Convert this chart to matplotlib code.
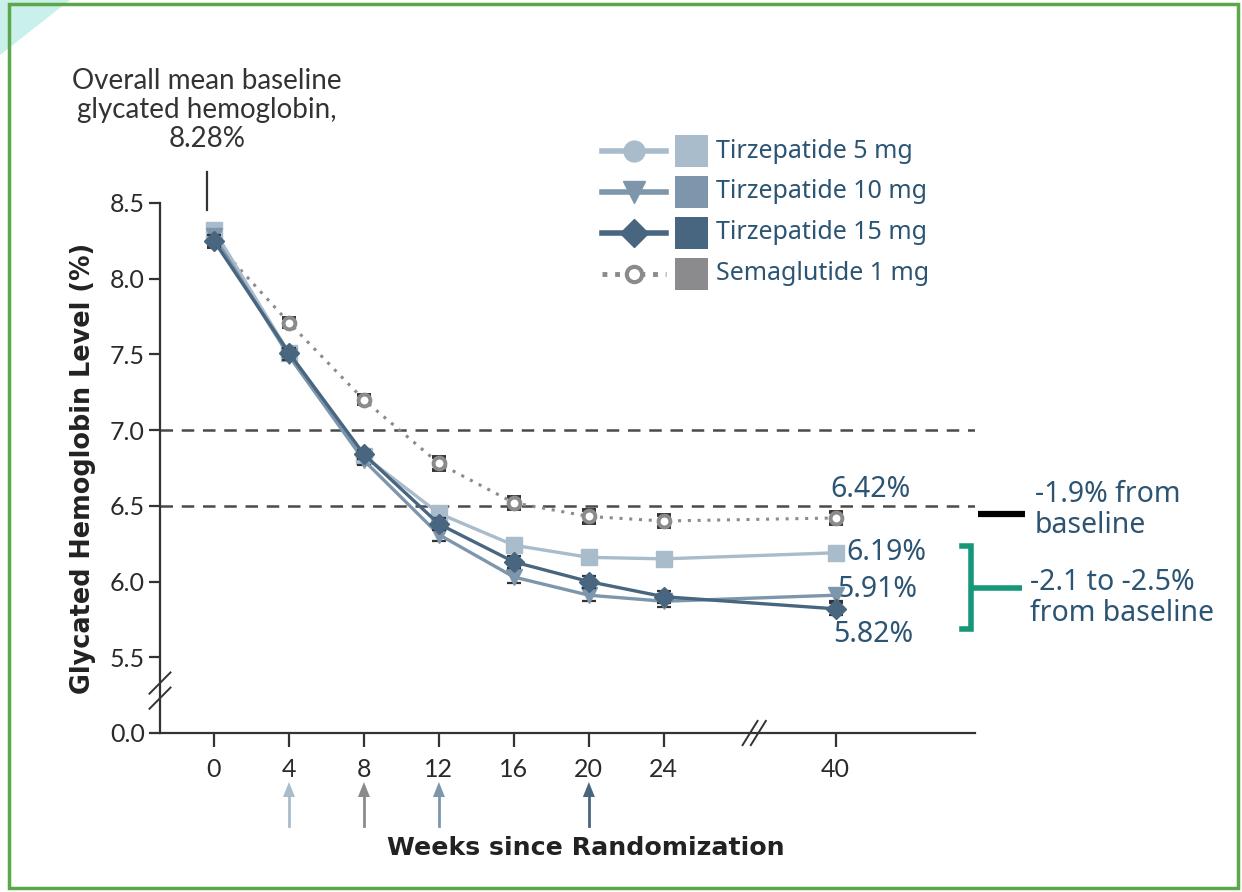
import matplotlib
matplotlib.use("Agg")
import matplotlib.pyplot as plt
from matplotlib.lines import Line2D
from matplotlib.patches import Rectangle, Polygon

# weeks since randomization and where they sit on the compressed x axis
weeks = [0, 4, 8, 12, 16, 20, 24, 40]
xpos = [0, 1, 2, 3, 4, 5, 6, 8.29]

tirz5 = [8.32, 7.51, 6.83, 6.45, 6.24, 6.16, 6.15, 6.19]
tirz10 = [8.28, 7.49, 6.80, 6.31, 6.03, 5.91, 5.87, 5.91]
tirz15 = [8.25, 7.51, 6.84, 6.38, 6.13, 6.00, 5.90, 5.82]
sema1 = [8.25, 7.71, 7.20, 6.78, 6.52, 6.43, 6.40, 6.42]
err = [0.04, 0.03, 0.03, 0.04, 0.04, 0.04, 0.04, 0.04]

series_names = ["Tirzepatide 5 mg", "Tirzepatide 10 mg", "Tirzepatide 15 mg", "Semaglutide 1 mg"]
series_colors = ["#a8bccb", "#7d96ab", "#486680", "#8b8b8d"]

end_labels = ["6.42%", "6.19%", "5.91%", "5.82%"]
yticks = [5.0, 5.5, 6.0, 6.5, 7.0, 7.5, 8.0, 8.5]
ytick_labels = ["0.0", "5.5", "6.0", "6.5", "7.0", "7.5", "8.0", "8.5"]
dose_step_weeks = [4, 8, 12, 20]
dose_step_colors = ["#a8bccb", "#8b8b8d", "#7d96ab", "#486680"]

W, H = 1242, 892
TXT = "#2c5473"
AXC = "#333333"

fig = plt.figure(figsize=(W / 100, H / 100), dpi=100)
ax = fig.add_axes([160 / W, 159 / H, 815 / W, 530 / H])


def px(x, y):
    # pixel position (from top-left) to figure fraction
    return x / W, 1 - y / H


# frame around the figure
fig.add_artist(Polygon([px(0, 0), px(70, 0), px(0, 55)], closed=True,
                       transform=fig.transFigure, color="#c9f0ea", lw=0))
fig.add_artist(Rectangle(px(9, 888), (1229) / W, 884 / H, transform=fig.transFigure,
                         fill=False, ec="#5aa84a", lw=2.5))

ax.set_xlim(-0.72, 10.15)
ax.set_ylim(5.0, 8.5)

for y in [7.0, 6.5]:
    ax.axhline(y, color="#4a4a4a", lw=1.8, ls=(0, (5, 3.5)), zorder=1)

markers = ["s", "v", "D", "o"]
msizes = [11, 12, 10, 8.5]
data = [tirz5, tirz10, tirz15, sema1]
order = [3, 0, 1, 2]
for i in order:
    vals = data[i]
    c = series_colors[i]
    if i == 3:
        ax.errorbar(xpos, vals, yerr=err, color=c, lw=2.2, ls=(0, (1, 2.2)),
                    marker="o", ms=msizes[i], mfc="white", mec=c, mew=2.8,
                    ecolor=AXC, elinewidth=1.0, capsize=5, capthick=1.6,
                    zorder=3, clip_on=False)
    else:
        ax.errorbar(xpos, vals, yerr=err, color=c, lw=2.4, marker=markers[i],
                    ms=msizes[i], mfc=c, mec=c, ecolor=AXC, elinewidth=1.0,
                    capsize=5, capthick=1.6, zorder=4 + i, clip_on=False)

# spines and ticks
for s in ["top", "right"]:
    ax.spines[s].set_visible(False)
for s in ["left", "bottom"]:
    ax.spines[s].set_color(AXC)
    ax.spines[s].set_linewidth(1.6)

tick_font = dict(family="Lato", size=18, color="#2a2a2a")
ax.set_yticks(yticks)
ax.set_yticklabels(ytick_labels, **tick_font)
ax.set_xticks(xpos)
ax.set_xticklabels([str(w) for w in weeks], **tick_font)
ax.tick_params(axis="y", direction="out", length=8, width=1.6, color=AXC, pad=3)
ax.tick_params(axis="x", direction="out", length=10, width=1.6, color=AXC, pad=8)

# axis break marks
for dx in [0, 0.11]:
    ax.plot([7.05 + dx, 7.25 + dx], [4.92, 5.08], color=AXC, lw=1.4, clip_on=False, zorder=6)
for dy in [0, 0.1]:
    ax.plot([-0.86, -0.58], [5.16 + dy, 5.30 + dy], color=AXC, lw=1.4, clip_on=False, zorder=6)

ax.set_ylabel("Glycated Hemoglobin Level (%)", family="DejaVu Sans", weight="bold",
              size=18.4, color="#222222", labelpad=10)
fig.text(*px(586, 848), "Weeks since Randomization", family="DejaVu Sans",
         weight="bold", size=18.2, color="#222222", ha="center", va="center")

# dose escalation arrows
for w, c in zip(dose_step_weeks, dose_step_colors):
    xp = xpos[weeks.index(w)]
    xf = ax.transData.transform((xp, 0))[0]
    fig.add_artist(Line2D([xf / W] * 2, [1 - 826 / H, 1 - 795 / H], transform=fig.transFigure,
                          color=c, lw=2))
    fig.add_artist(Polygon([(xf / W - 6 / W, 1 - 797 / H), (xf / W + 6 / W, 1 - 797 / H),
                            (xf / W, 1 - 782 / H)], closed=True, transform=fig.transFigure,
                           color=c, lw=0))

# baseline annotation
fig.text(*px(207, 110), "Overall mean baseline\nglycated hemoglobin,\n8.28%",
         family="Lato", size=20, color="#333333", ha="center", va="center",
         linespacing=1.12)
fig.add_artist(Line2D([207 / W] * 2, [1 - 172 / H, 1 - 210 / H], transform=fig.transFigure,
                      color="#333333", lw=1.6))

# end-of-trial values
lab_font = dict(family="Noto Sans", size=20.5, color=TXT)
ax.text(8.29 + 0.47, sema1[-1] + 0.19, end_labels[0], ha="center", va="center", **lab_font)
ax.text(8.29 + 0.15, tirz5[-1], end_labels[1], ha="left", va="center", **lab_font)
ax.text(8.29 + 0.02, tirz10[-1] + 0.04, end_labels[2], ha="left", va="center", **lab_font)
ax.text(8.29 + 0.5, tirz15[-1] - 0.17, end_labels[3], ha="center", va="center", **lab_font)

# right-hand callouts
fig.add_artist(Line2D([978 / W, 1025 / W], [1 - 514 / H] * 2, transform=fig.transFigure,
                      color="black", lw=4.5, solid_capstyle="butt"))
fig.text(*px(1035, 510), "-1.9% from\nbaseline", ha="left", va="center",
         linespacing=1.05, **lab_font)
green = "#15977a"
fig.add_artist(Line2D([962 / W, 971 / W, 971 / W, 962 / W],
                      [1 - 546 / H, 1 - 546 / H, 1 - 629 / H, 1 - 629 / H],
                      transform=fig.transFigure, color=green, lw=4, solid_joinstyle="miter"))
fig.add_artist(Line2D([971 / W, 1022 / W], [1 - 588 / H] * 2, transform=fig.transFigure,
                      color=green, lw=4, solid_capstyle="butt"))
fig.text(*px(1030, 598), "-2.1 to -2.5%\nfrom baseline", ha="left", va="center",
         linespacing=1.05, **lab_font)

# legend: line sample, colour swatch, name
leg_font = dict(family="Noto Sans", size=18, color=TXT)
for k, (name, c) in enumerate(zip(series_names, series_colors)):
    yrow = 151 + 41 * k
    if k == 3:
        fig.add_artist(Line2D([602 / W, 666 / W], [1 - yrow / H] * 2, transform=fig.transFigure,
                              color=c, lw=3.5, ls=(0, (1, 1.6))))
        fig.add_artist(Line2D([634 / W], [1 - yrow / H], transform=fig.transFigure, marker="o",
                              ms=11, mfc="white", mec=c, mew=3))
    else:
        fig.add_artist(Line2D([602 / W, 666 / W], [1 - yrow / H] * 2, transform=fig.transFigure,
                              color=c, lw=4))
        mk = ["o", "v", "D"][k]
        fig.add_artist(Line2D([634 / W], [1 - yrow / H], transform=fig.transFigure, marker=mk,
                              ms=[15, 16, 14][k], mfc=c, mec=c))
    fig.add_artist(Rectangle(px(675, yrow + 16), 33 / W, 32 / H, transform=fig.transFigure,
                             color=c, lw=0))
    fig.text(*px(716, yrow), name, ha="left", va="center", **leg_font)

fig.savefig("out.png", dpi=100)
